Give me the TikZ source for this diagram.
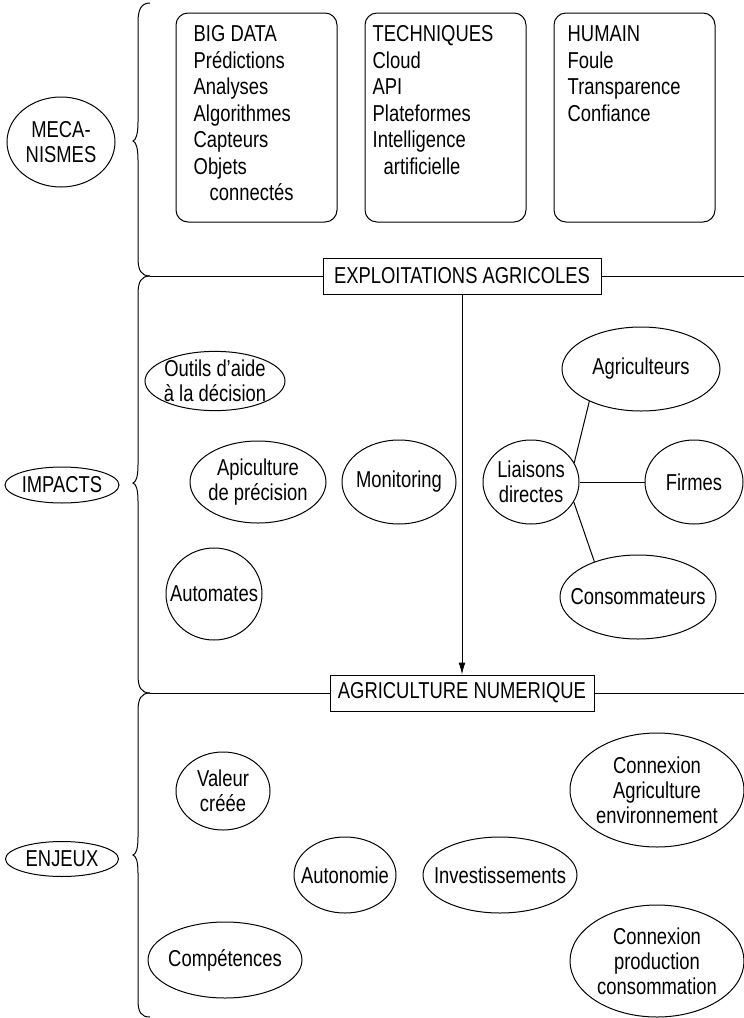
\documentclass[tikz,border=0pt]{standalone}
\usepackage{fontspec}
\setmainfont{Liberation Sans}[FakeStretch=0.8]
\usepackage{tikz}
\usetikzlibrary{arrows.meta,positioning,shapes.geometric}
\newcommand{\etiq}[1]{\makebox[0pt]{#1}}
\tikzset{
    %Define standard arrow tip
    >={Latex[length=12pt,width=7pt]},
    %Define style for the rounded boxes
    cadre/.style={
           rectangle,
           rounded corners=12pt,
           draw=black, line width=1pt,
           minimum width=161pt,
           minimum height=209pt},
    % Define style for the lists in the boxes
    liste/.style={
           inner sep=0pt,
           align=left,
           font=\fontsize{23}{26.5}\selectfont},
    % Define style for the ellipses
    bulle/.style={
           ellipse,
           draw=black, line width=1pt,
           inner sep=0pt,
           align=center},
    % Define style for the banners
    bandeau/.style={
           rectangle,
           draw=black, line width=1pt,
           minimum height=36pt},
    % Define line and arrow styles
    trait/.style={
           line width=1pt},
    fleche/.style={
           ->,
           line width=1pt}
}
\begin{document}
\begin{tikzpicture}[x=1pt, y=-1pt, font=\fontsize{23}{25}\selectfont]
      \useasboundingbox (0,0) rectangle (744,1018);

      \node[bulle, minimum width=108pt, minimum height=90pt] (mecanismes) at (61,142) {\etiq{MECA-}\\\etiq{NISMES}};
      \node[bulle, minimum width=114pt, minimum height=36pt] (impacts) at (62,485) {\etiq{IMPACTS}};
      \node[bulle, minimum width=113pt, minimum height=35pt] (enjeux) at (62,859) {\etiq{ENJEUX}};

      \draw[trait] (150,3) .. controls (141,3) and (138,10) .. (138,22) -- (138,122)
        .. controls (138,134) and (136,140) .. (133,141) .. controls (136,142) and (138,148) .. (138,160)
        -- (138,258) .. controls (138,270) and (141,276) .. (150,276);
      \draw[trait] (150,276) .. controls (141,276) and (138,282) .. (138,294) -- (138,465)
        .. controls (138,477) and (136,482) .. (133,483) .. controls (136,484) and (138,489) .. (138,501)
        -- (138,675) .. controls (138,687) and (141,693) .. (150,693);
      \draw[trait] (150,693) .. controls (141,693) and (138,699) .. (138,711) -- (138,837)
        .. controls (138,849) and (136,854) .. (133,855) .. controls (136,856) and (138,861) .. (138,873)
        -- (138,1000) .. controls (138,1012) and (141,1017) .. (150,1017);

      \node[cadre] (bigdata) at (256.5,117.5) {};
      \node[cadre, right=27pt of bigdata] (techniques) {};
      \node[cadre, right=27pt of techniques] (humain) {};
      \node[liste, below right=13pt and 18pt of bigdata.north west] (bigdata-liste)
        {BIG DATA\\Prédictions\\Analyses\\Algorithmes\\Capteurs\\Objets\\\hspace*{16pt}connectés};
      \node[liste, below right=13pt and 8pt of techniques.north west] (techniques-liste)
        {TECHNIQUES\\Cloud\\API\\Plateformes\\Intelligence\\\hspace*{11pt}artificielle};
      \node[liste, below right=13pt and 14pt of humain.north west] (humain-liste)
        {HUMAIN\\Foule\\Transparence\\Confiance};

      \node[bandeau, minimum width=278pt] (exploit) at (462,276) {EXPLOITATIONS AGRICOLES};
      \node[bandeau, minimum width=264pt] (agrinum) at (462,693) {AGRICULTURE NUMERIQUE};
      \coordinate (jonction1) at (150,276);
      \coordinate (bord1) at (744,276);
      \coordinate (jonction2) at (150,693);
      \coordinate (bord2) at (744,693);
      \draw[trait] (jonction1) -- (exploit);
      \draw[trait] (exploit) -- (bord1);
      \draw[trait] (jonction2) -- (agrinum);
      \draw[trait] (agrinum) -- (bord2);
      \draw[fleche] (exploit) -- (agrinum);

      \node[bulle, minimum width=140pt, minimum height=58pt] (outils) at (215,381) {\etiq{Outils d’aide}\\\etiq{à la décision}};
      \node[bulle, minimum width=136pt, minimum height=82pt] (apiculture) at (258,482) {\etiq{Apiculture}\\\etiq{de précision}};
      \node[bulle, minimum width=114pt, minimum height=84pt] (monitoring) at (399,482) {\etiq{Monitoring}};
      \node[bulle, minimum width=96pt, minimum height=92pt] (automates) at (214,594) {\etiq{Automates}};
      \node[bulle, minimum width=96pt, minimum height=84pt] (liaisons) at (531,482) {\etiq{Liaisons}\\\etiq{directes}};
      \node[bulle, minimum width=158pt, minimum height=84pt] (agriculteurs) at (641,369) {\etiq{Agriculteurs}};
      \node[bulle, minimum width=98pt, minimum height=84pt] (firmes) at (694,482) {\etiq{Firmes}};
      \node[bulle, minimum width=156pt, minimum height=84pt] (consommateurs) at (638,597) {\etiq{Consommateurs}};
      \draw[trait] (liaisons.24) -- (agriculteurs.212);
      \draw[trait] (liaisons) -- (firmes);
      \draw[trait] (liaisons.-25) -- (consommateurs.141);

      \node[bulle, minimum width=94pt, minimum height=78pt] (valeur) at (223,791) {\etiq{Valeur}\\\etiq{créée}};
      \node[bulle, minimum width=102pt, minimum height=76pt] (autonomie) at (345,875) {\etiq{Autonomie}};
      \node[bulle, minimum width=154pt, minimum height=76pt] (investissements) at (500,875) {\etiq{Investissements}};
      \node[bulle, minimum width=154pt, minimum height=76pt] (competences) at (225,960) {\etiq{Compétences}};
      \node[bulle, minimum width=174pt, minimum height=114pt] (connexionenv) at (657,790) {\etiq{Connexion}\\\etiq{Agriculture}\\\etiq{environnement}};
      \node[bulle, minimum width=174pt, minimum height=112pt] (connexionprod) at (657,961) {\etiq{Connexion}\\\etiq{production}\\\etiq{consommation}};
\end{tikzpicture}
\end{document}
